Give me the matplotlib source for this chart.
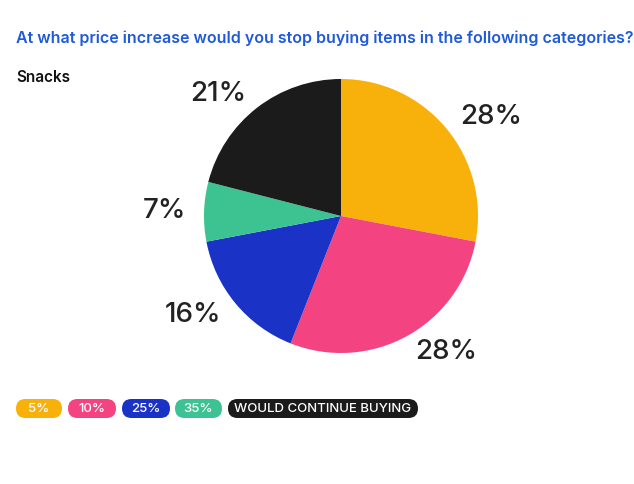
import matplotlib
matplotlib.use("Agg")
import matplotlib.pyplot as plt
from matplotlib.patches import FancyBboxPatch

labels = ["5%", "10%", "25%", "35%", "WOULD CONTINUE BUYING"]
values = [28, 28, 16, 7, 21]
colors = ["#F8B00A", "#F44381", "#1A32C6", "#3CC391", "#1B1B1B"]

plt.rcParams['font.family'] = ['Inter', 'DejaVu Sans']

fig = plt.figure(figsize=(6.34, 4.84), dpi=100)

# overlay in pixel coords for the texts and legend
bg = fig.add_axes([0, 0, 1, 1])
bg.set_xlim(0, 634)
bg.set_ylim(484, 0)
bg.axis('off')

bg.text(16, 38, "At what price increase would you stop buying items in the following categories?",
        color="#1F5AD8", fontsize=11.5, fontweight='semibold', va='center', ha='left')
bg.text(16, 77, "Snacks", color="#111111", fontsize=11, fontweight='semibold', va='center', ha='left')

# pie
cx, cy, r = 341, 216, 137
ax = fig.add_axes([(cx - r) / 634, (484 - cy - r) / 484, 2 * r / 634, 2 * r / 484])
ax.pie(values, colors=colors, startangle=90, counterclock=False,
       labels=[f"{v}%" for v in values], labeldistance=1.13,
       textprops=dict(fontsize=20, color="#222222", fontweight='medium'),
       wedgeprops=dict(linewidth=0))
ax.set_xlim(-1, 1)
ax.set_ylim(-1, 1)
ax.axis('off')

# legend pills
xs = [16, 68, 122, 175, 228]
ws = [46, 48, 48, 47, 190]
for lab, col, x0, w in zip(labels, colors, xs, ws):
    bg.add_patch(FancyBboxPatch((x0, 399), w, 19,
                                boxstyle="round,pad=0,rounding_size=9.5",
                                fc=col, ec='none'))
    bg.text(x0 + w / 2, 409, lab, color='white', fontsize=9.5, ha='center', va='center',
            fontweight='medium')

fig.savefig("out.png", dpi=100)
